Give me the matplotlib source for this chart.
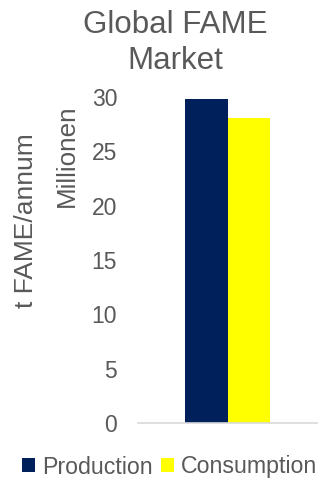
import matplotlib
matplotlib.use("Agg")
import matplotlib.pyplot as plt
from matplotlib.patches import Patch

plt.rcParams['font.family'] = ['Liberation Sans', 'DejaVu Sans']

categories = ["Global FAME Market"]
series = ["Production", "Consumption"]
values = [29.8, 28.1]
colors = ["#00205B", "#FFFF00"]
yticks = [0, 5, 10, 15, 20, 25, 30]

W, H = 321, 480
fig = plt.figure(figsize=(W / 100, H / 100), dpi=100)
ax = fig.add_axes([138 / W, 1 - 423 / H, (317 - 138) / W, (423 - 97) / H])

bw = 0.2375
for i, (s, v, c) in enumerate(zip(series, values, colors)):
    ax.bar(0 + (i - 0.5) * bw, v, width=bw, color=c, label=s)

ax.set_xlim(-0.5, 0.5)
ax.set_ylim(0, 30)
ax.set_yticks(yticks)
ax.set_yticklabels([str(t) for t in yticks])
ax.set_xticks([])
ax.tick_params(axis='y', length=0, labelsize=16.5, labelcolor="#595959", pad=15)
for side in ["top", "right", "left"]:
    ax.spines[side].set_visible(False)
ax.spines["bottom"].set_color("#D9D9D9")
ax.spines["bottom"].set_linewidth(1.2)

gray = "#595959"
fig.text(175 / W, 1 - 10 / H, "Global FAME\nMarket", ha="center", va="top",
         fontsize=22.5, color=gray, linespacing=1.25)
fig.text(26 / W, 1 - 221 / H, "t FAME/annum", rotation=90, ha="center", va="center",
         fontsize=19, color=gray)
fig.text(67 / W, 1 - 156 / H, "Millionen", rotation=90, ha="center", va="center",
         fontsize=18.7, color=gray)

handles = [Patch(facecolor=c, edgecolor='none') for c in colors]
leg = fig.legend(handles, series, loc="center", bbox_to_anchor=(169.5 / W, 1 - 467 / H),
                 ncol=2, frameon=False, fontsize=16.7, handlelength=0.55, handleheight=0.55,
                 handletextpad=0.3, columnspacing=0.35, borderpad=0, borderaxespad=0)
for t in leg.get_texts():
    t.set_color(gray)

fig.savefig("out.png", dpi=100)
